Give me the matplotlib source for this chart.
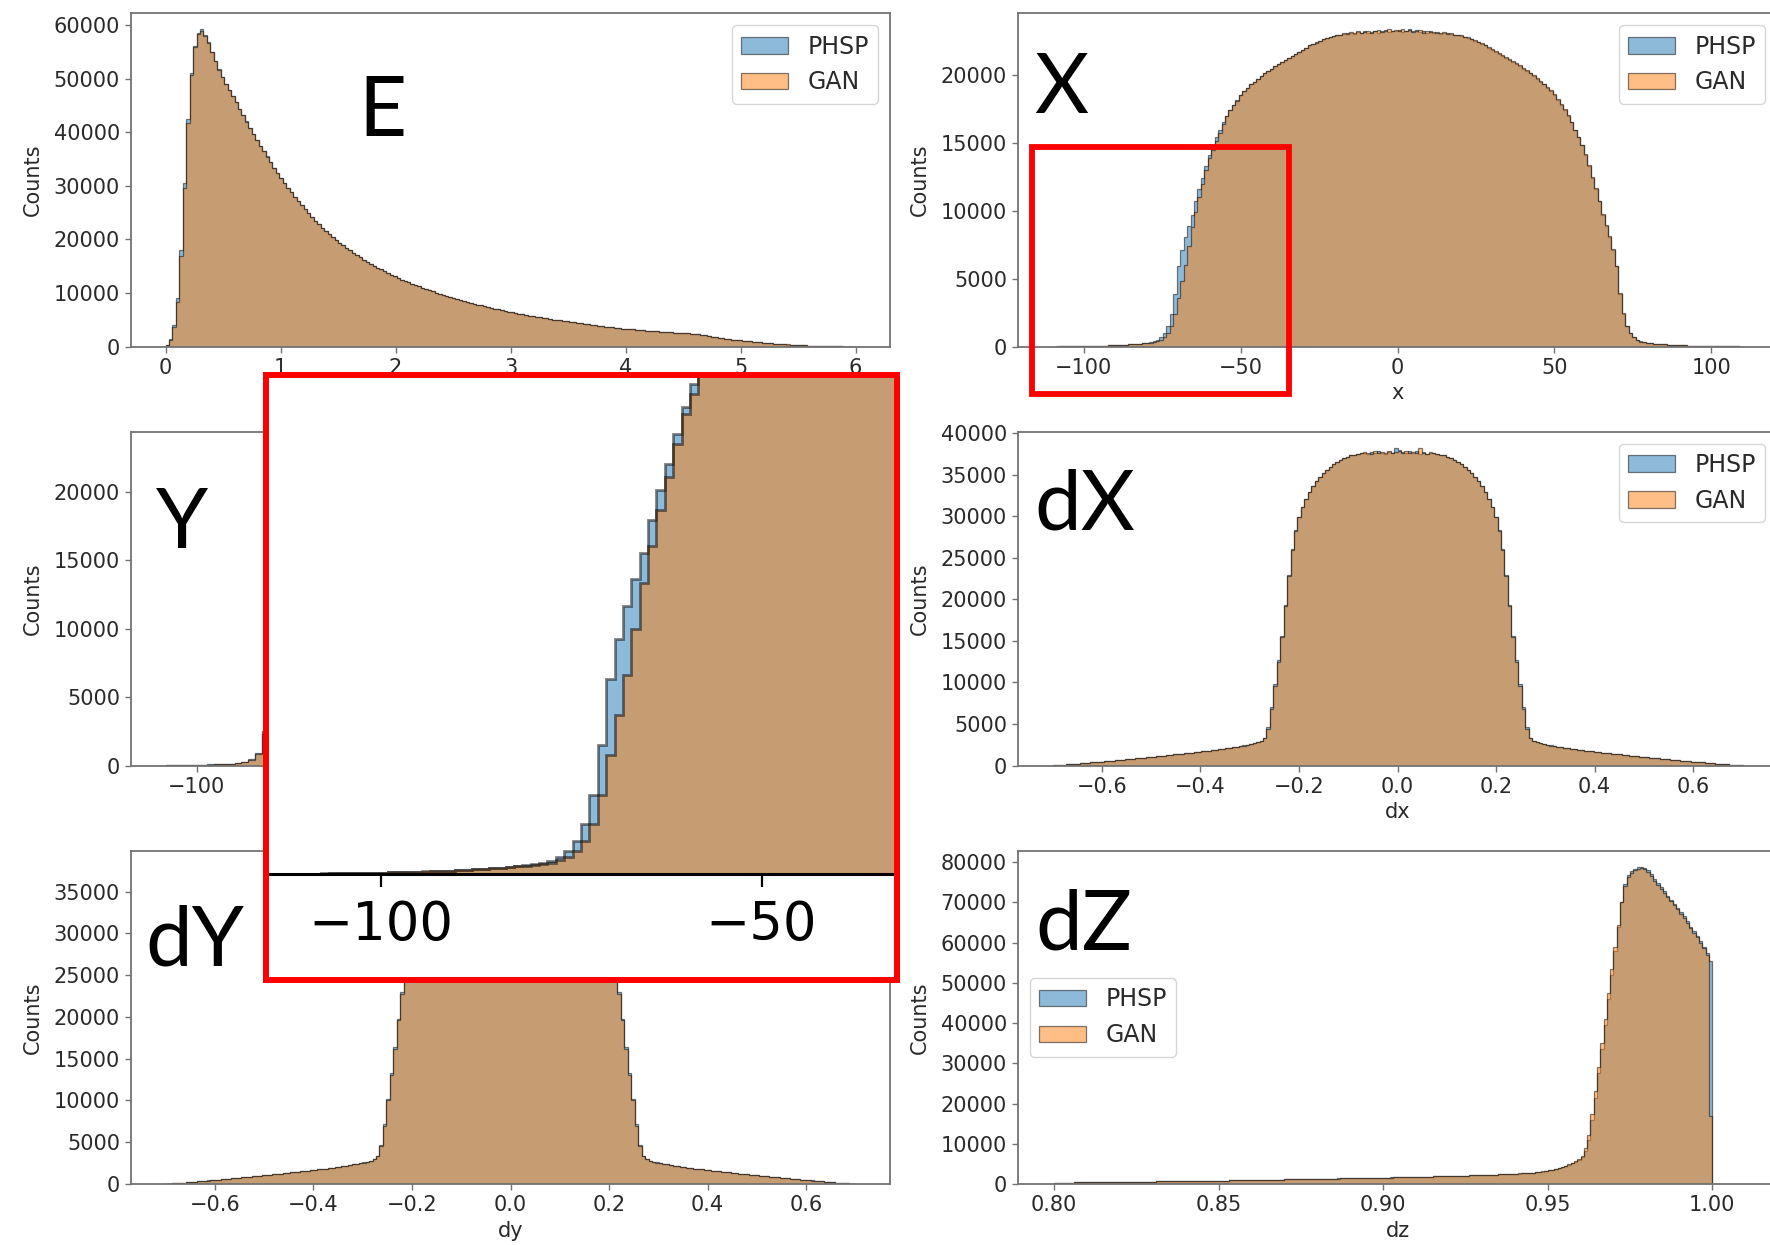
import numpy as np
import matplotlib
matplotlib.use("Agg")
import matplotlib.pyplot as plt
from matplotlib.patches import Rectangle
from matplotlib.ticker import MultipleLocator

# ---------------- data (bin counts) ----------------
E_RANGE = (0.0, 6.0)
E_PHSP = [300, 1500, 4000, 9000, 18000, 30500, 42500, 51000, 56000, 58500,
          59200, 58200, 56800, 55000, 53300, 51700, 50300, 49000, 47900, 46800,
          45600, 44400, 43200, 42000, 40800, 39700, 38600, 37500, 36500, 35500,
          34400, 33400, 32400, 31500, 30500, 29600, 28800, 28000, 27200, 26400,
          25600, 24900, 24200, 23500, 22800, 22200, 21600, 21000, 20400, 19900,
          19400, 18900, 18400, 17950, 17500, 17050, 16650, 16250, 15850, 15450,
          15100, 14750, 14400, 14050, 13700, 13400, 13100, 12800, 12500, 12250,
          12000, 11750, 11500, 11250, 11000, 10800, 10550, 10300, 10100, 9900,
          9700, 9500, 9300, 9100, 8900, 8700, 8550, 8350, 8200, 8000,
          7850, 7700, 7550, 7400, 7250, 7100, 6950, 6800, 6650, 6520,
          6400, 6270, 6150, 6030, 5910, 5800, 5690, 5580, 5470, 5370,
          5270, 5170, 5070, 4980, 4890, 4800, 4710, 4620, 4530, 4440,
          4350, 4260, 4170, 4080, 3990, 3900, 3820, 3740, 3660, 3580,
          3510, 3450, 3390, 3330, 3270, 3210, 3150, 3090, 3040, 2990,
          2940, 2890, 2840, 2790, 2740, 2700, 2660, 2620, 2580, 2540,
          2500, 2470, 2440, 2400, 2330, 2230, 2120, 2000, 1890, 1780,
          1680, 1590, 1500, 1410, 1330, 1250, 1180, 1110, 1040, 970,
          905, 845, 785, 730, 675, 625, 575, 530, 485, 445,
          405, 370, 335, 300, 270, 240, 210, 185, 160, 140,
          120, 100, 80, 65, 50, 38, 28, 18, 10, 4]
E_GAN = [250, 1300, 3600, 8300, 17000, 29500, 41800, 50600, 55800, 58300,
         58900, 58000, 56600, 54900, 53200, 51600, 50200, 48900, 47800, 46700,
         45600, 44300, 43200, 41900, 40800, 39600, 38600, 37400, 36500, 35400,
         34400, 33300, 32400, 31500, 30500, 29600, 28800, 27900, 27200, 26400,
         25600, 24900, 24200, 23500, 22800, 22200, 21600, 21000, 20400, 19900,
         19400, 18900, 18400, 17950, 17500, 17050, 16650, 16250, 15850, 15450,
         15100, 14750, 14400, 14050, 13700, 13400, 13100, 12800, 12500, 12250,
         12000, 11750, 11500, 11250, 11000, 10800, 10550, 10300, 10100, 9900,
         9700, 9500, 9300, 9100, 8900, 8700, 8550, 8350, 8200, 8000,
         7850, 7700, 7550, 7400, 7250, 7100, 6950, 6800, 6650, 6520,
         6400, 6270, 6150, 6030, 5910, 5800, 5690, 5580, 5470, 5370,
         5270, 5170, 5070, 4980, 4890, 4800, 4710, 4620, 4530, 4440,
         4350, 4260, 4170, 4080, 3990, 3900, 3820, 3740, 3660, 3580,
         3510, 3450, 3390, 3330, 3270, 3210, 3150, 3090, 3040, 2990,
         2940, 2890, 2840, 2790, 2740, 2700, 2660, 2620, 2580, 2540,
         2500, 2470, 2440, 2400, 2340, 2240, 2130, 2010, 1900, 1790,
         1690, 1600, 1510, 1420, 1340, 1260, 1190, 1120, 1050, 980,
         915, 855, 795, 740, 685, 635, 585, 540, 495, 455,
         415, 380, 345, 310, 280, 250, 220, 195, 170, 150,
         130, 110, 90, 72, 56, 42, 31, 21, 12, 5]

X_RANGE = (-110.0, 110.0)
X_PHSP = [10, 15, 20, 20, 25, 30, 30, 35, 40, 45,
          50, 55, 60, 70, 75, 85, 95, 105, 115, 125,
          140, 155, 170, 190, 210, 235, 260, 290, 330, 390,
          500, 700, 1000, 1500, 2400, 3900, 5900, 7100, 8100, 8900,
          9700, 10700, 11600, 12400, 13300, 14100, 14800, 15400, 15900, 16500,
          17000, 17400, 17800, 18150, 18500, 18800, 19050, 19300, 19500, 19700,
          19900, 20100, 20300, 20450, 20650, 20800, 20950, 21100, 21250, 21400,
          21550, 21700, 21850, 22000, 22150, 22250, 22400, 22500, 22600, 22700,
          22750, 22850, 22900, 22950, 23000, 23050, 23100, 23000, 23150, 23100,
          23200, 23050, 23150, 23250, 23100, 23200, 23300, 23150, 23250, 23200,
          23300, 23150, 23250, 23350, 23200, 23300, 23150, 23250, 23100, 23200,
          23100, 23150, 23000, 23100, 23050, 23000, 22950, 22900, 22850, 22750,
          22700, 22600, 22500, 22400, 22250, 22150, 22000, 21850, 21700, 21550,
          21400, 21250, 21100, 20950, 20800, 20650, 20450, 20300, 20100, 19900,
          19700, 19500, 19300, 19050, 18800, 18500, 18150, 17800, 17400, 17000,
          16500, 15900, 15400, 14800, 14100, 13300, 12400, 11600, 10700, 9700,
          8900, 8100, 7100, 5900, 3900, 2400, 1500, 1000, 700, 500,
          390, 330, 290, 260, 235, 210, 190, 170, 155, 140,
          125, 115, 105, 95, 85, 75, 70, 60, 55, 50,
          45, 40, 35, 30, 30, 25, 20, 20, 15, 10]
X_GAN = [10, 10, 15, 20, 25, 25, 30, 35, 40, 45,
         50, 55, 65, 70, 80, 85, 95, 105, 115, 130,
         140, 155, 170, 190, 210, 230, 255, 280, 300, 340,
         410, 520, 700, 1000, 1500, 2400, 3600, 4800, 6000, 7400,
         8800, 9900, 11000, 12000, 13000, 13900, 14500, 15100, 15750, 16400,
         16950, 17400, 17800, 18100, 18500, 18800, 19000, 19300, 19500, 19700,
         19900, 20100, 20250, 20450, 20650, 20800, 20950, 21100, 21250, 21400,
         21550, 21700, 21850, 21950, 22150, 22250, 22350, 22500, 22600, 22700,
         22800, 22850, 22900, 22950, 23050, 23000, 23150, 23100, 23200, 23050,
         23150, 23250, 23100, 23200, 23300, 23150, 23250, 23350, 23200, 23300,
         23250, 23350, 23200, 23300, 23150, 23250, 23300, 23100, 23200, 23150,
         23150, 23100, 23050, 23150, 23000, 23050, 22950, 22900, 22900, 22800,
         22750, 22650, 22550, 22400, 22300, 22150, 22050, 21900, 21750, 21600,
         21450, 21300, 21150, 21000, 20850, 20700, 20500, 20350, 20150, 19950,
         19750, 19550, 19350, 19100, 18850, 18550, 18200, 17850, 17450, 17050,
         16550, 15950, 15450, 14850, 14150, 13350, 12450, 11650, 10750, 9750,
         8950, 8150, 7150, 5950, 3950, 2450, 1550, 1000, 700, 500,
         380, 320, 280, 250, 230, 210, 190, 170, 155, 140,
         125, 115, 105, 95, 85, 75, 70, 60, 55, 50,
         45, 40, 35, 30, 25, 25, 20, 15, 15, 10]

Y_RANGE = (-110.0, 110.0)
Y_PHSP = [15, 20, 30, 40, 50, 60, 75, 90, 110, 135,
          170, 250, 450, 900, 2500, 5500, 8600, 11000, 13000, 14700,
          16000, 17100, 18000, 18700, 19300, 19850, 20350, 20800, 21200, 21550,
          21850, 22100, 22350, 22550, 22700, 22850, 22950, 23050, 23100, 23150,
          23200, 23150, 23230, 23200, 23150, 23230, 23200, 23100, 23200, 23150,
          23200, 23100, 23230, 23150, 23200, 23150, 23230, 23150, 23200, 23150,
          23150, 23100, 23050, 22950, 22850, 22700, 22550, 22350, 22100, 21850,
          21550, 21200, 20800, 20350, 19850, 19300, 18700, 18000, 17100, 16000,
          14700, 13000, 11000, 8600, 5500, 2500, 900, 450, 250, 170,
          135, 110, 90, 75, 60, 50, 40, 30, 20, 15]
Y_GAN = [15, 20, 25, 35, 50, 60, 70, 90, 110, 130,
         165, 240, 420, 850, 2300, 5200, 8300, 10800, 12900, 14600,
         16000, 17100, 18000, 18700, 19300, 19850, 20300, 20800, 21200, 21550,
         21850, 22100, 22300, 22550, 22700, 22850, 22950, 23000, 23100, 23150,
         23150, 23200, 23150, 23200, 23100, 23200, 23150, 23200, 23100, 23200,
         23150, 23200, 23100, 23150, 23200, 23100, 23150, 23200, 23150, 23100,
         23150, 23100, 23050, 22950, 22850, 22700, 22550, 22350, 22100, 21850,
         21550, 21200, 20800, 20350, 19850, 19300, 18700, 18000, 17100, 16000,
         14700, 13000, 11000, 8600, 5500, 2500, 900, 450, 250, 170,
         135, 110, 90, 75, 60, 50, 40, 30, 20, 15]

DX_RANGE = (-0.7, 0.7)
DX_PHSP = [10, 30, 60, 95, 130, 165, 200, 240, 275, 315,
           350, 380, 415, 445, 480, 515, 550, 590, 630, 670,
           710, 750, 790, 830, 870, 910, 950, 995, 1040, 1080,
           1120, 1160, 1200, 1245, 1290, 1335, 1380, 1425, 1470, 1515,
           1560, 1605, 1650, 1700, 1750, 1800, 1850, 1905, 1960, 2020,
           2080, 2140, 2200, 2270, 2340, 2410, 2490, 2570, 2660, 2780,
           2980, 3300, 4600, 7000, 9800, 12700, 15600, 19300, 22900, 26000,
           28300, 29900, 31100, 32100, 32900, 33600, 34200, 34700, 35150, 35550,
           35900, 36250, 36550, 36800, 37000, 37150, 37300, 37400, 37500, 37550,
           37600, 37450, 37700, 37550, 37800, 37600, 37500, 37750, 37650, 38200,
           38000, 37700, 37550, 37800, 37650, 37850, 37500, 37700, 37450, 37600,
           37550, 37500, 37400, 37300, 37150, 37000, 36800, 36550, 36250, 35900,
           35550, 35150, 34700, 34200, 33600, 32900, 32100, 31100, 29900, 28300,
           26000, 22900, 19300, 15600, 12700, 9800, 7000, 4600, 3300, 2980,
           2780, 2660, 2570, 2490, 2410, 2340, 2270, 2200, 2140, 2080,
           2020, 1960, 1905, 1850, 1800, 1750, 1700, 1650, 1605, 1560,
           1515, 1470, 1425, 1380, 1335, 1290, 1245, 1200, 1160, 1120,
           1080, 1040, 995, 950, 910, 870, 830, 790, 750, 710,
           670, 630, 590, 550, 515, 480, 445, 415, 380, 350,
           315, 275, 240, 200, 165, 130, 95, 60, 30, 10]
DX_GAN = [10, 30, 55, 90, 125, 160, 200, 235, 270, 310,
          345, 380, 410, 445, 475, 510, 550, 585, 625, 665,
          705, 745, 785, 825, 865, 905, 950, 990, 1035, 1075,
          1115, 1155, 1200, 1240, 1285, 1330, 1375, 1420, 1465, 1510,
          1555, 1600, 1645, 1695, 1745, 1795, 1845, 1900, 1955, 2015,
          2075, 2135, 2195, 2265, 2335, 2405, 2485, 2565, 2650, 2770,
          2950, 3250, 4400, 6800, 9600, 12500, 15500, 19200, 22800, 25900,
          28200, 29900, 31100, 32100, 32900, 33600, 34200, 34700, 35150, 35550,
          35900, 36250, 36550, 36800, 37000, 37150, 37300, 37400, 37500, 37550,
          37700, 37600, 37500, 37800, 37550, 37750, 37650, 37900, 37550, 37700,
          37800, 37600, 37850, 37550, 37700, 37600, 38250, 37650, 37500, 37700,
          37550, 37500, 37400, 37300, 37150, 37000, 36800, 36550, 36250, 35900,
          35550, 35150, 34700, 34200, 33600, 32900, 32100, 31100, 29900, 28200,
          25900, 22800, 19200, 15500, 12500, 9600, 6800, 4400, 3250, 2950,
          2770, 2650, 2565, 2485, 2405, 2335, 2265, 2195, 2135, 2075,
          2015, 1955, 1900, 1845, 1795, 1745, 1695, 1645, 1600, 1555,
          1510, 1465, 1420, 1375, 1330, 1285, 1240, 1200, 1155, 1115,
          1075, 1035, 990, 950, 905, 865, 825, 785, 745, 705,
          665, 625, 585, 550, 510, 475, 445, 410, 380, 345,
          310, 270, 235, 200, 160, 125, 90, 55, 30, 10]

DY_RANGE = (-0.7, 0.7)
DY_PHSP = [10, 35, 65, 100, 135, 170, 205, 245, 280, 320,
           355, 385, 420, 450, 485, 520, 555, 595, 635, 675,
           715, 755, 795, 835, 875, 915, 955, 1000, 1045, 1085,
           1125, 1165, 1205, 1250, 1295, 1340, 1385, 1430, 1475, 1520,
           1565, 1610, 1655, 1705, 1755, 1805, 1855, 1910, 1965, 2025,
           2085, 2145, 2205, 2275, 2345, 2415, 2495, 2575, 2670, 2800,
           3000, 3350, 4700, 7200, 10200, 13300, 16400, 19800, 23000, 25800,
           28000, 29600, 30900, 31900, 32700, 33400, 34000, 34500, 34950, 35350,
           35700, 36050, 36350, 36600, 36800, 36950, 37100, 37200, 37300, 37400,
           37450, 37350, 37600, 37400, 37650, 37500, 37400, 37600, 37500, 38000,
           37800, 37500, 37650, 37400, 37550, 37450, 37650, 37400, 37500, 37450,
           37400, 37300, 37200, 37100, 36950, 36800, 36600, 36350, 36050, 35700,
           35350, 34950, 34500, 34000, 33400, 32700, 31900, 30900, 29600, 28000,
           25800, 23000, 19800, 16400, 13300, 10200, 7200, 4700, 3350, 3000,
           2800, 2670, 2575, 2495, 2415, 2345, 2275, 2205, 2145, 2085,
           2025, 1965, 1910, 1855, 1805, 1755, 1705, 1655, 1610, 1565,
           1520, 1475, 1430, 1385, 1340, 1295, 1250, 1205, 1165, 1125,
           1085, 1045, 1000, 955, 915, 875, 835, 795, 755, 715,
           675, 635, 595, 555, 520, 485, 450, 420, 385, 355,
           320, 280, 245, 205, 170, 135, 100, 65, 35, 10]
DY_GAN = [10, 30, 60, 95, 130, 165, 205, 240, 280, 315,
          350, 385, 415, 450, 480, 515, 555, 590, 630, 670,
          710, 750, 790, 830, 870, 915, 955, 995, 1040, 1080,
          1120, 1160, 1205, 1245, 1290, 1335, 1380, 1425, 1470, 1515,
          1560, 1605, 1650, 1700, 1750, 1800, 1850, 1905, 1960, 2020,
          2080, 2140, 2200, 2270, 2340, 2410, 2490, 2570, 2660, 2790,
          2980, 3300, 4550, 7000, 10000, 13100, 16200, 19600, 22800, 25700,
          27900, 29500, 30800, 31800, 32700, 33400, 34000, 34500, 34950, 35350,
          35700, 36050, 36350, 36600, 36800, 36950, 37100, 37200, 37300, 37400,
          37500, 37400, 37550, 37450, 37600, 37450, 37550, 37700, 37450, 37600,
          37550, 37650, 37450, 37600, 37500, 37700, 37450, 37550, 37400, 37500,
          37400, 37300, 37200, 37100, 36950, 36800, 36600, 36350, 36050, 35700,
          35350, 34950, 34500, 34000, 33400, 32700, 31800, 30800, 29500, 27900,
          25700, 22800, 19600, 16200, 13100, 10000, 7000, 4550, 3300, 2980,
          2790, 2660, 2570, 2490, 2410, 2340, 2270, 2200, 2140, 2080,
          2020, 1960, 1905, 1850, 1800, 1750, 1700, 1650, 1605, 1560,
          1515, 1470, 1425, 1380, 1335, 1290, 1245, 1205, 1160, 1120,
          1080, 1040, 995, 955, 915, 870, 830, 790, 750, 710,
          670, 630, 590, 555, 515, 480, 450, 415, 385, 350,
          315, 280, 240, 205, 165, 130, 95, 60, 30, 10]

DZ_RANGE = (0.8, 1.0)
DZ_PHSP = [320, 330, 340, 350, 360, 370, 380, 390, 400, 410,
           420, 430, 440, 450, 460, 470, 480, 490, 500, 510,
           520, 530, 540, 550, 560, 570, 580, 590, 600, 610,
           620, 630, 640, 650, 660, 670, 680, 690, 700, 710,
           720, 730, 740, 750, 760, 770, 780, 790, 800, 815,
           830, 845, 860, 875, 890, 905, 920, 935, 950, 965,
           980, 995, 1010, 1025, 1040, 1055, 1070, 1085, 1100, 1115,
           1130, 1145, 1160, 1175, 1190, 1205, 1220, 1235, 1250, 1265,
           1280, 1295, 1310, 1325, 1340, 1355, 1370, 1385, 1400, 1415,
           1430, 1445, 1460, 1475, 1490, 1505, 1520, 1535, 1550, 1565,
           1580, 1600, 1620, 1640, 1660, 1680, 1700, 1720, 1740, 1760,
           1780, 1800, 1820, 1840, 1860, 1880, 1900, 1920, 1940, 1960,
           1985, 2010, 2035, 2060, 2085, 2110, 2135, 2160, 2185, 2210,
           2240, 2270, 2300, 2330, 2360, 2390, 2420, 2450, 2490, 2520,
           2560, 2600, 2650, 2700, 2760, 2830, 2910, 3000, 3100, 3220,
           3400, 3550, 3720, 3920, 4150, 4420, 4750, 5100, 5500, 6000,
           6600, 8200, 11000, 16000, 21500, 27500, 33500, 39500, 46000, 52000,
           58000, 64000, 70000, 74500, 76800, 77800, 78400, 78800, 78900, 78600,
           78000, 77000, 75800, 74800, 73800, 72800, 71700, 70700, 69700, 68700,
           67600, 66500, 65300, 64000, 62800, 61600, 60300, 59000, 57300, 55500]
DZ_GAN = [315, 325, 335, 345, 355, 365, 375, 385, 395, 405,
          415, 425, 435, 445, 455, 465, 475, 485, 495, 505,
          515, 525, 535, 545, 555, 565, 575, 585, 595, 605,
          615, 625, 635, 645, 655, 665, 675, 685, 695, 705,
          715, 725, 735, 745, 755, 765, 775, 785, 795, 810,
          825, 840, 855, 870, 885, 900, 915, 930, 945, 960,
          975, 990, 1005, 1020, 1035, 1050, 1065, 1080, 1095, 1110,
          1125, 1140, 1155, 1170, 1185, 1200, 1215, 1230, 1245, 1260,
          1275, 1290, 1305, 1320, 1335, 1350, 1365, 1380, 1395, 1410,
          1425, 1440, 1455, 1470, 1485, 1500, 1515, 1530, 1545, 1560,
          1575, 1595, 1615, 1635, 1655, 1675, 1695, 1715, 1735, 1755,
          1775, 1795, 1815, 1835, 1855, 1875, 1895, 1915, 1935, 1955,
          1980, 2005, 2030, 2055, 2080, 2105, 2130, 2155, 2180, 2205,
          2235, 2265, 2295, 2325, 2355, 2385, 2415, 2450, 2490, 2525,
          2565, 2610, 2660, 2715, 2775, 2845, 2930, 3020, 3130, 3260,
          3440, 3600, 3780, 4000, 4250, 4550, 4900, 5300, 5750, 6300,
          7000, 9000, 12200, 17500, 23000, 29000, 35000, 41000, 47500, 53500,
          59000, 64500, 70000, 74000, 76300, 77400, 78000, 78400, 78500, 78200,
          77600, 76600, 75400, 74400, 73400, 72400, 71300, 70300, 69300, 68300,
          67200, 66100, 64900, 63700, 62500, 61300, 60000, 58700, 57000, 17000]
DZ_XLIM = (0.789, 1.0197)

SERIES = ["PHSP", "GAN"]
PANEL_LABELS = ["E", "X", "Y", "dX", "dY", "dZ"]
X_LABELS = {"X": "x", "dX": "dx", "dY": "dy", "dZ": "dz"}
Y_STEPS = {"E": 10000, "X": 5000, "Y": 5000, "dX": 5000, "dY": 5000, "dZ": 10000}
Y_VISIBLE_XTICKS = [-100]          # the rest of the Y panel lies under the zoom inset
INSET_XLIM = (-114.7, -32.7)
INSET_YLIM = (0, 15000)
INSET_TICKS = [-100, -50]
ZOOM_BOX_X = (-116.6, -34.7)
ZOOM_BOX_Y = (-3500, 14700)

# ---------------- layout ----------------
W, H = 1770, 1245
fig = plt.figure(figsize=(W / 100, H / 100), dpi=100)
plt.rcParams["font.family"] = ["DejaVu Sans"]


def px_rect(x0, y0, x1, y1):
    return [x0 / W, 1 - y1 / H, (x1 - x0) / W, (y1 - y0) / H]


COLS = [(131, 890), (1018, 1777)]
ROWS = [(13.3, 346.7), (431.7, 765.5), (850.7, 1184)]

# key: (range, phsp, gan, col, row, legend location or None when hidden by the inset)
panels = {
    "E": (E_RANGE, E_PHSP, E_GAN, 0, 0, "upper right"),
    "X": (X_RANGE, X_PHSP, X_GAN, 1, 0, "upper right"),
    "Y": (Y_RANGE, Y_PHSP, Y_GAN, 0, 1, None),
    "dX": (DX_RANGE, DX_PHSP, DX_GAN, 1, 1, "upper right"),
    "dY": (DY_RANGE, DY_PHSP, DY_GAN, 0, 2, None),
    "dZ": (DZ_RANGE, DZ_PHSP, DZ_GAN, 1, 2, "center left"),
}

TICK_FS = 15
LEG_FS = 17
SPINE_C = "0.45"
TXT_C = "#2a2a2a"


def draw_hist(ax, rng, phsp, gan, lw=1.0):
    edges = np.linspace(rng[0], rng[1], len(phsp) + 1)
    centers = 0.5 * (edges[1:] + edges[:-1])
    for vals, col, lab in [(phsp, "C0", SERIES[0]), (gan, "C1", SERIES[1])]:
        ax.hist(centers, bins=edges, weights=vals, histtype="stepfilled",
                alpha=0.5, facecolor=col, edgecolor="k", lw=lw, label=lab)


axes = {}
for key, (rng, phsp, gan, c, r, loc) in panels.items():
    x0, x1 = COLS[c]
    y0, y1 = ROWS[r]
    ax = fig.add_axes(px_rect(x0, y0, x1, y1))
    draw_hist(ax, rng, phsp, gan, lw=0.9)
    ax.yaxis.set_major_locator(MultipleLocator(Y_STEPS[key]))
    ax.set_ylabel("Counts", fontsize=TICK_FS, color=TXT_C, labelpad=8)
    if key in X_LABELS:
        ax.set_xlabel(X_LABELS[key], fontsize=TICK_FS, color=TXT_C)
    for s in ax.spines.values():
        s.set_color(SPINE_C)
        s.set_linewidth(1.3)
    ax.tick_params(labelsize=TICK_FS, labelcolor=TXT_C, color=SPINE_C,
                   length=4.5, width=1.0)
    if loc is not None:
        leg = ax.legend(loc=loc, fontsize=LEG_FS)
        for t in leg.get_texts():
            t.set_color(TXT_C)
    axes[key] = ax

axes["dZ"].set_xlim(*DZ_XLIM)
axes["dZ"].xaxis.set_major_locator(MultipleLocator(0.05))
axes["Y"].set_xticks(Y_VISIBLE_XTICKS)

# big panel labels
BIG = {"E": (358, 136), "X": (1034, 113), "Y": (156, 548), "dX": (1034, 530),
       "dY": (145, 966), "dZ": (1035, 949)}
for lab in PANEL_LABELS:
    bx, by = BIG[lab]
    fig.text(bx / W, 1 - by / H, lab, fontsize=60, family=["Lato", "DejaVu Sans"],
             ha="left", va="baseline", color="black", zorder=6)

# red box on X panel (limits frozen first so the box does not rescale the axes)
axX = axes["X"]
xl, yl = axX.get_xlim(), axX.get_ylim()
axX.add_patch(Rectangle((ZOOM_BOX_X[0], ZOOM_BOX_Y[0]), ZOOM_BOX_X[1] - ZOOM_BOX_X[0],
                        ZOOM_BOX_Y[1] - ZOOM_BOX_Y[0], fill=False, ec="red", lw=4.2,
                        clip_on=False, zorder=10))
axX.set_xlim(xl)
axX.set_ylim(yl)

# inset (magnified view)
BOX = (265.5, 374.5, 896.5, 980)
cover = Rectangle((BOX[0] / W, 1 - BOX[3] / H), (BOX[2] - BOX[0]) / W, (BOX[3] - BOX[1]) / H,
                  transform=fig.transFigure, facecolor="white", edgecolor="none", zorder=3)
fig.add_artist(cover)

ins = fig.add_axes(px_rect(268.5, 377.5, 893.5, 874))
ins.set_zorder(4)
draw_hist(ins, X_RANGE, X_PHSP, X_GAN, lw=2.0)
ins.set_xlim(*INSET_XLIM)
ins.set_ylim(*INSET_YLIM)
for s in ["left", "top", "right"]:
    ins.spines[s].set_visible(False)
ins.spines["bottom"].set_linewidth(2.2)
ins.spines["bottom"].set_color("black")
ins.set_yticks([])
ins.set_xticks(INSET_TICKS)
ins.tick_params(axis="x", length=9, width=1.6, labelsize=38, pad=9, colors="black")

outline = Rectangle((BOX[0] / W, 1 - BOX[3] / H), (BOX[2] - BOX[0]) / W, (BOX[3] - BOX[1]) / H,
                    transform=fig.transFigure, fill=False, edgecolor="red", lw=4.3, zorder=5)
fig.add_artist(outline)

fig.savefig("out.png", dpi=100, facecolor="white")
